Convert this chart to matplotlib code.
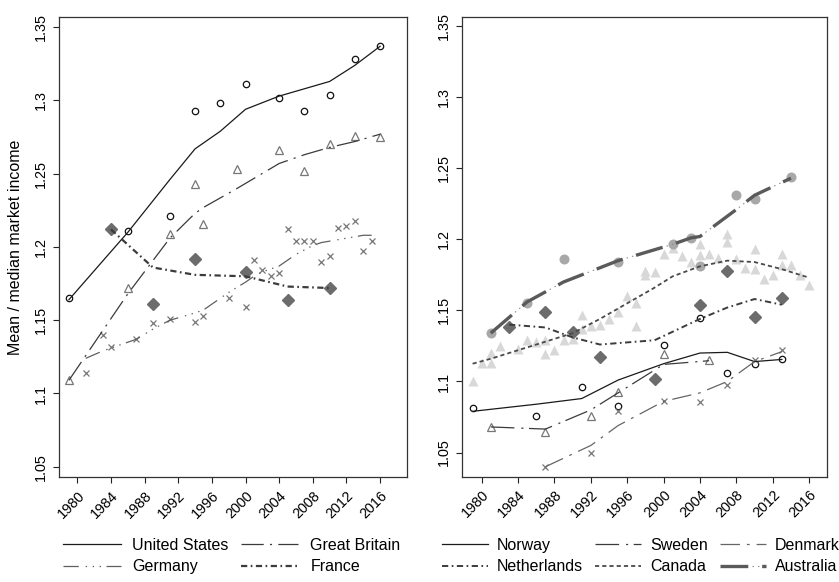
"""
Mean / median market income, two panels with lowess-style trend lines.

Usage:
python plot.py
"""
import matplotlib
matplotlib.use("Agg")
import matplotlib.pyplot as plt
import matplotlib.transforms as mtransforms

plt.rcParams["font.family"] = ["Liberation Sans", "DejaVu Sans"]
plt.rcParams["lines.scale_dashes"] = False

# ---- left panel data ----
us_years = [1979, 1986, 1991, 1994, 1997, 2000, 2004, 2007, 2010, 2013, 2016]
us_vals = [1.165, 1.211, 1.221, 1.293, 1.298, 1.311, 1.302, 1.293, 1.304, 1.328, 1.337]
us_fit = [1.164, 1.210, 1.246, 1.267, 1.279, 1.294, 1.303, 1.308, 1.313, 1.324, 1.337]

gb_years = [1979, 1986, 1991, 1994, 1995, 1999, 2004, 2007, 2010, 2013, 2016]
gb_vals = [1.109, 1.172, 1.209, 1.243, 1.216, 1.253, 1.266, 1.252, 1.270, 1.276, 1.275]
gb_fit = [1.109, 1.168, 1.206, 1.223, 1.227, 1.240, 1.257, 1.263, 1.268, 1.272, 1.277]

de_years = [1981, 1983, 1984, 1987, 1989, 1991, 1994, 1995, 1998, 2000, 2001, 2002, 2003,
            2004, 2005, 2006, 2007, 2008, 2009, 2010, 2011, 2012, 2013, 2014, 2015]
de_vals = [1.114, 1.140, 1.132, 1.137, 1.148, 1.151, 1.149, 1.153, 1.165, 1.159, 1.191, 1.184, 1.180,
           1.182, 1.212, 1.204, 1.204, 1.204, 1.190, 1.194, 1.213, 1.214, 1.218, 1.197, 1.204]
de_fit = [1.124, 1.129, 1.131, 1.137, 1.144, 1.150, 1.155, 1.157, 1.169, 1.176, 1.180, 1.183, 1.185,
          1.187, 1.191, 1.195, 1.198, 1.201, 1.203, 1.204, 1.205, 1.206, 1.207, 1.208, 1.208]

fr_years = [1984, 1989, 1994, 2000, 2005, 2010]
fr_vals = [1.212, 1.161, 1.192, 1.183, 1.164, 1.172]
fr_fit = [1.212, 1.186, 1.181, 1.180, 1.173, 1.172]

# ---- right panel data ----
no_years = [1979, 1986, 1991, 1995, 2000, 2004, 2007, 2010, 2013]
no_vals = [1.081, 1.076, 1.096, 1.083, 1.126, 1.145, 1.106, 1.112, 1.116]
no_fit = [1.079, 1.084, 1.088, 1.101, 1.1125, 1.120, 1.1205, 1.114, 1.1155]

se_years = [1981, 1987, 1992, 1995, 2000, 2005]
se_vals = [1.068, 1.0645, 1.076, 1.0925, 1.1196, 1.1148]
se_fit = [1.068, 1.0665, 1.080, 1.092, 1.112, 1.1146]

dk_years = [1987, 1992, 1995, 2000, 2004, 2007, 2010, 2013]
dk_vals = [1.040, 1.0497, 1.0794, 1.0864, 1.0859, 1.0977, 1.1148, 1.1219]
dk_fit = [1.040, 1.055, 1.069, 1.086, 1.092, 1.100, 1.114, 1.121]

nl_years = [1983, 1987, 1990, 1993, 1999, 2004, 2007, 2010, 2013]
nl_vals = [1.138, 1.149, 1.135, 1.117, 1.102, 1.154, 1.178, 1.1455, 1.159]
nl_fit = [1.140, 1.138, 1.131, 1.126, 1.129, 1.144, 1.152, 1.158, 1.154]

ca_years = [1979, 1980, 1981, 1981, 1982, 1984, 1985, 1986, 1987, 1987, 1988, 1989, 1990,
            1991, 1991, 1992, 1993, 1994, 1995, 1996, 1997, 1997, 1998, 1998, 1999, 2000,
            2001, 2002, 2003, 2004, 2004, 2005, 2006, 2007, 2007, 2008, 2009, 2010, 2010,
            2011, 2012, 2013, 2013, 2014, 2015, 2016]
ca_vals = [1.100, 1.113, 1.113, 1.120, 1.125, 1.123, 1.129, 1.128, 1.129, 1.119, 1.122, 1.129, 1.130,
           1.147, 1.137, 1.139, 1.140, 1.144, 1.149, 1.160, 1.155, 1.139, 1.178, 1.175, 1.177, 1.190,
           1.194, 1.188, 1.184, 1.197, 1.189, 1.190, 1.187, 1.204, 1.198, 1.186, 1.180, 1.193, 1.179,
           1.172, 1.175, 1.190, 1.182, 1.182, 1.175, 1.168]
ca_fit_years = [1979, 1981, 1984, 1987, 1990, 1993, 1996, 1999, 2001, 2004, 2007, 2010, 2013, 2016]
ca_fit = [1.1125, 1.116, 1.122, 1.128, 1.134, 1.144, 1.155, 1.166, 1.174, 1.181, 1.185, 1.184, 1.179, 1.173]

au_years = [1981, 1985, 1989, 1995, 2001, 2003, 2004, 2008, 2010, 2014]
au_vals = [1.134, 1.155, 1.186, 1.184, 1.197, 1.201, 1.1815, 1.231, 1.2285, 1.244]
au_fit = [1.134, 1.156, 1.170, 1.185, 1.1965, 1.201, 1.202, 1.221, 1.231, 1.243]

y_ticks = [1.05, 1.1, 1.15, 1.2, 1.25, 1.3, 1.35]
y_labels = ["1.05", "1.1", "1.15", "1.2", "1.25", "1.3", "1.35"]
x_ticks = list(range(1980, 2017, 4))

TICK_FS = 10.4
TEXT_FS = 11.5


def style_axes(ax, xlim, ylim):
    ax.set_xlim(*xlim)
    ax.set_ylim(*ylim)
    ax.set_yticks(y_ticks)
    ax.set_yticklabels(y_labels, rotation=90, va="center", fontsize=TICK_FS)
    ax.set_xticks(x_ticks)
    ax.set_xticklabels([str(t) for t in x_ticks], rotation=45, ha="right",
                       va="top", rotation_mode="anchor", fontsize=TICK_FS)
    shift = mtransforms.ScaledTranslation(0.04, 0, ax.figure.dpi_scale_trans)
    for lab in ax.get_xticklabels():
        lab.set_transform(lab.get_transform() + shift)
    ax.tick_params(axis="both", direction="out", length=4.3, width=0.8,
                   color="#222222", pad=3.8)
    for sp in ax.spines.values():
        sp.set_color("#333333")
        sp.set_linewidth(0.9)


fig = plt.figure(figsize=(8.39, 5.82), dpi=100)
ax1 = fig.add_axes([0.0707, 0.1799, 0.4141, 0.7904])
ax2 = fig.add_axes([0.5503, 0.1809, 0.4358, 0.7899])

# ---- left panel ----
ax1.plot(us_years, us_vals, "o", ms=4.6, mfc="none", mec="#111111", mew=0.9)
ax1.plot(gb_years, gb_vals, "^", ms=5.2, mfc="none", mec="#777777", mew=0.9)
ax1.plot(de_years, de_vals, "x", ms=4.6, mec="#777777", mew=0.9)
ax1.plot(fr_years, fr_vals, "D", ms=6.2, mfc="#6c6c6c", mec="#6c6c6c")

l_us, = ax1.plot(us_years, us_fit, color="#1a1a1a", lw=0.9)
l_gb, = ax1.plot(gb_years, gb_fit, color="#3a3a3a", lw=0.9, dashes=(16, 4.5, 1.5, 4.5))
l_de, = ax1.plot(de_years, de_fit, color="#606060", lw=0.9,
                 dashes=(11, 5, 1, 4, 1, 4, 1, 4))
l_fr, = ax1.plot(fr_years, fr_fit, color="#3c3c3c", lw=1.6, dashes=(4.5, 2.5, 1.2, 2.5))

style_axes(ax1, (1977.86, 2019.17), (1.0428, 1.3568))
ax1.set_ylabel("Mean / median market income", fontsize=TEXT_FS, labelpad=8)

# legend fills column by column
ax1.legend([l_us, l_de, l_gb, l_fr],
           ["United States", "Germany", "Great Britain", "France"],
           ncol=2, loc="upper left", bbox_to_anchor=(63 / 839, 1 - 538 / 582),
           bbox_transform=fig.transFigure, frameon=False, fontsize=TEXT_FS,
           handlelength=3.6, handletextpad=0.75, columnspacing=0.75,
           labelspacing=0.4, borderpad=0, borderaxespad=0)

# ---- right panel ----
ax2.plot(ca_years, ca_vals, "^", ms=6.5, mfc="#d8d8d8", mec="none")
ax2.plot(au_years, au_vals, "o", ms=7.2, mfc="#a8a8a8", mec="none")
ax2.plot(no_years, no_vals, "o", ms=4.6, mfc="none", mec="#111111", mew=0.9)
ax2.plot(se_years, se_vals, "^", ms=5.2, mfc="none", mec="#777777", mew=0.9)
ax2.plot(dk_years, dk_vals, "x", ms=4.6, mec="#777777", mew=0.9)
ax2.plot(nl_years, nl_vals, "D", ms=6.2, mfc="#6c6c6c", mec="#6c6c6c")

l_no, = ax2.plot(no_years, no_fit, color="#1a1a1a", lw=0.9)
l_se, = ax2.plot(se_years, se_fit, color="#3a3a3a", lw=0.9, dashes=(17, 5, 1.5, 4))
l_dk, = ax2.plot(dk_years, dk_fit, color="#666666", lw=0.9, dashes=(14, 5, 2, 5))
l_nl, = ax2.plot(nl_years, nl_fit, color="#3c3c3c", lw=1.4, dashes=(4.5, 2.5, 1.2, 2.5))
l_ca, = ax2.plot(ca_fit_years, ca_fit, color="#4a4a4a", lw=1.3, dashes=(3, 2.2))
l_au, = ax2.plot(au_years, au_fit, color="#5a5a5a", lw=2.4, dashes=(20, 10),
                 dash_capstyle="butt")
l_au2, = ax2.plot(au_years, au_fit, color="#8a8a8a", lw=0.8,
                  linestyle=(7, (1, 3, 1, 25)))

style_axes(ax2, (1977.8, 2018.0), (1.033, 1.3564))

ax2.legend([l_no, l_nl, l_se, l_ca, l_dk, (l_au, l_au2)],
           ["Norway", "Netherlands", "Sweden", "Canada", "Denmark", "Australia"],
           ncol=3, loc="upper left", bbox_to_anchor=(441.7 / 839, 1 - 538 / 582),
           bbox_transform=fig.transFigure, frameon=False, fontsize=TEXT_FS,
           handlelength=2.9, handletextpad=0.55, columnspacing=0.75,
           labelspacing=0.4, borderpad=0, borderaxespad=0)

fig.savefig("out.png", dpi=100)
